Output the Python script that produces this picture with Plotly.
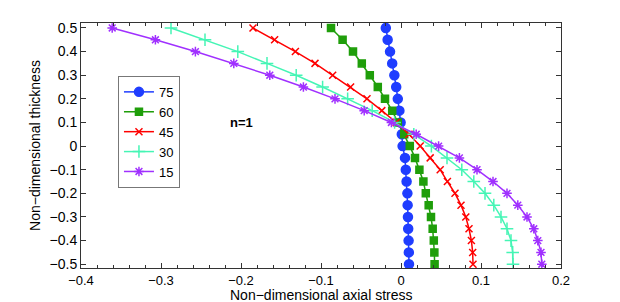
import plotly.graph_objects as go

# Non-dimensional thickness (y) values
z = [0.5, 0.45, 0.4, 0.35, 0.3, 0.25, 0.2, 0.15, 0.1, 0.05, 0.0,
     -0.05, -0.1, -0.15, -0.2, -0.25, -0.3, -0.35, -0.4, -0.45, -0.5]

# Non-dimensional axial stress for each series
s75 = [-0.019, -0.0167, -0.0137, -0.011, -0.0083, -0.006, -0.004, -0.002, -0.0005, 0.001, 0.002,
       0.005, 0.006, 0.007, 0.008, 0.0083, 0.0087, 0.009, 0.0095, 0.0098, 0.010]
s60 = [-0.0875, -0.073, -0.060, -0.049, -0.039, -0.029, -0.020, -0.011, -0.004, 0.004, 0.011,
       0.0175, 0.023, 0.028, 0.031, 0.0346, 0.0375, 0.0396, 0.041, 0.0417, 0.042]
s45 = [-0.185, -0.158, -0.132, -0.1075, -0.0854, -0.063, -0.0425, -0.024, -0.006, 0.010, 0.024,
       0.0365, 0.049, 0.058, 0.0675, 0.075, 0.081, 0.085, 0.088, 0.0896, 0.090]
s30 = [-0.2875, -0.245, -0.204, -0.1675, -0.131, -0.098, -0.0667, -0.036, -0.008, 0.016, 0.038,
       0.0575, 0.076, 0.091, 0.105, 0.116, 0.125, 0.1325, 0.1375, 0.1396, 0.140]
s15 = [-0.361, -0.307, -0.257, -0.209, -0.164, -0.122, -0.0825, -0.046, -0.012, 0.019, 0.047,
       0.073, 0.095, 0.115, 0.1325, 0.146, 0.1575, 0.166, 0.171, 0.175, 0.176]

names = ["75", "60", "45", "30", "15"]
series = [s75, s60, s45, s30, s15]
colors = ["#1f3dff", "#1f9e0a", "#ff0000", "#45f5b5", "#a030ff"]
symbols = ["circle", "square", "x-thin-open", "cross-thin-open", "asterisk-open"]
sizes = [9, 7, 7, 9, 8]

xticks = [-0.4, -0.3, -0.2, -0.1, 0, 0.1, 0.2]
xticktext = ["\u22120.4", "\u22120.3", "\u22120.2", "\u22120.1", "0", "0.1", "0.2"]
yticks = [-0.5, -0.4, -0.3, -0.2, -0.1, 0, 0.1, 0.2, 0.3, 0.4, 0.5]
yticktext = ["\u22120.5", "\u22120.4", "\u22120.3", "\u22120.2", "\u22120.1", "0",
             "0.1", "0.2", "0.3", "0.4", "0.5"]

fig = go.Figure()
for name, s, c, sym, sz in zip(names, series, colors, symbols, sizes):
    fig.add_trace(go.Scatter(
        x=s, y=z, name=name, mode="lines+markers",
        line=dict(color=c, width=1.5),
        marker=dict(symbol=sym, size=sz, color=c, line=dict(color=c, width=1.5)),
    ))

fig.add_annotation(x=-0.2, y=0.1, text="<b>n=1</b>", showarrow=False,
                   font=dict(size=13, color="black", family="Liberation Sans, Arial"))
fig.add_annotation(x=0.5, y=-0.112, xref="paper", yref="paper", yanchor="middle",
                   text="Non\u2212dimensional axial stress", showarrow=False,
                   font=dict(size=14, color="black"))

axis_common = dict(
    showline=True, linecolor="#333", linewidth=1, mirror="ticks",
    ticks="inside", ticklen=5, tickcolor="#333", showgrid=False, zeroline=False,
)

fig.update_xaxes(range=[-0.4, 0.2], tickvals=xticks, ticktext=xticktext,
                 minor=dict(dtick=0.02, ticks="inside", ticklen=3, tickcolor="#333"),
                 tickfont=dict(size=13, color="black"),
                 **axis_common)
fig.update_yaxes(range=[-0.516, 0.521], tickvals=yticks, ticktext=yticktext,
                 tickfont=dict(size=14, color="black"),
                 title=dict(text="Non\u2212dimensional thickness", standoff=5,
                            font=dict(size=14, color="black")),
                 **axis_common)

# page body has an 8px margin: compensate so the plot area sits at x 81-561, y 23-268
fig.update_layout(
    width=620, height=302,
    margin=dict(l=73, r=67, t=15, b=42),
    paper_bgcolor="white", plot_bgcolor="white",
    font=dict(family="Liberation Sans, Arial, sans-serif", size=14, color="black"),
    legend=dict(x=0.077, y=0.784, xanchor="left", yanchor="top",
                bgcolor="white", bordercolor="#777", borderwidth=1,
                font=dict(size=13), itemwidth=30, tracegroupgap=0),
    showlegend=True,
)

fig.write_html("out.html")
